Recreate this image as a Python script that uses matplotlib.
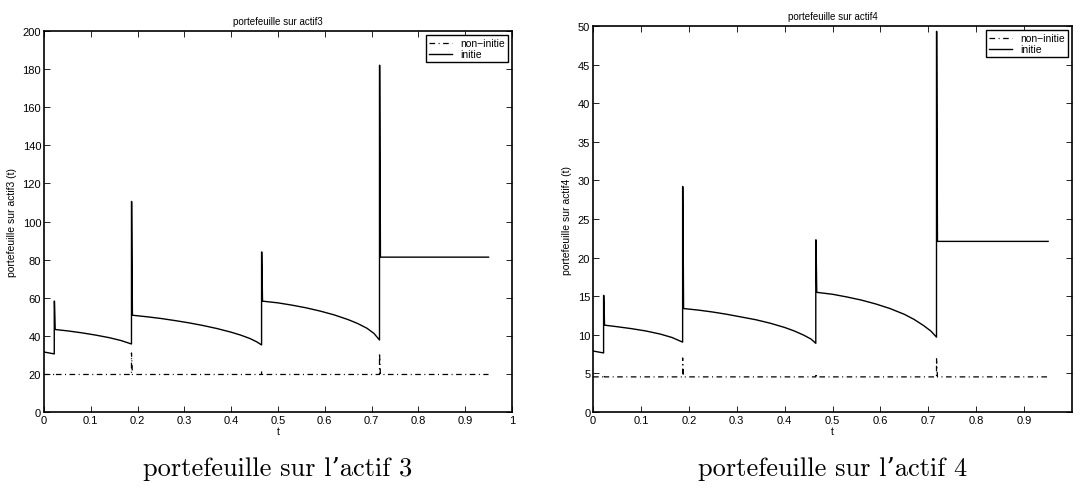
import numpy as np
from matplotlib import pyplot as plt

# time points of the "initie" curve (jumps at 0.022, 0.187, 0.465, 0.717)
t_init = [0, 0.022, 0.022, 0.0225,
          0.024, 0.05, 0.08, 0.11, 0.14, 0.165, 0.187, 0.187, 0.1875,
          0.189, 0.22, 0.25, 0.28, 0.31, 0.34, 0.37, 0.40, 0.42, 0.44, 0.455, 0.465, 0.465, 0.4655,
          0.467, 0.5, 0.53, 0.56, 0.59, 0.62, 0.65, 0.67, 0.69, 0.705, 0.717, 0.717, 0.7175,
          0.719, 0.95]

# actif3 - initie
y3_init = [31.5, 30.5, 58.2, 58.2,
           43.3, 42.6, 41.6, 40.4, 39.0, 37.5, 35.7, 110.5, 110.5,
           50.8, 50.0, 49.1, 48.0, 46.8, 45.4, 43.8, 41.9, 40.4, 38.6, 36.8, 35.2, 84.0, 84.0,
           58.2, 57.3, 56.1, 54.7, 53.0, 51.0, 48.5, 46.5, 44.0, 41.3, 37.8, 182.0, 182.0,
           81.3, 81.3]

# actif4 - initie
y4_init = [7.9, 7.65, 15.1, 15.1,
           11.25, 11.05, 10.8, 10.5, 10.1, 9.65, 9.05, 29.2, 29.2,
           13.4, 13.2, 12.95, 12.65, 12.3, 11.95, 11.5, 10.95, 10.5, 9.95, 9.45, 8.9, 22.3, 22.3,
           15.5, 15.25, 14.9, 14.5, 14.0, 13.4, 12.65, 12.0, 11.2, 10.5, 9.7, 49.3, 49.3,
           22.1, 22.1]

# non-initie: flat with small excursions at the jump times
t_non = [0, 0.022, 0.022, 0.024, 0.187, 0.187, 0.189, 0.465, 0.465, 0.467,
         0.717, 0.717, 0.719, 0.95]
y3_non = [19.7, 19.7, 20.3, 19.7, 19.7, 31.0, 19.7, 19.7, 21.5, 19.7,
          19.7, 31.0, 19.7, 19.7]
y4_non = [4.55, 4.55, 4.8, 4.55, 4.55, 7.0, 4.55, 4.55, 5.0, 4.55,
          4.55, 7.0, 4.55, 4.55]

plt.rcParams['font.family'] = ['Liberation Sans', 'DejaVu Sans']
plt.rcParams['font.size'] = 7.5

fig = plt.figure(figsize=(10.83, 4.89), dpi=100)

panels = [
    ([0.0406, 0.1554, 0.4321, 0.7791], y3_non, y3_init,
     200, np.arange(0, 201, 20), np.arange(0, 1.01, 0.1), '3'),
    ([0.5476, 0.1554, 0.4423, 0.7894], y4_non, y4_init,
     50, np.arange(0, 51, 5), np.arange(0, 0.91, 0.1), '4'),
]

for pos, yn, yi, ymax, yt, xt, k in panels:
    ax = fig.add_axes(pos)
    ax.plot(t_non, yn, color='black', linestyle=(0, (4.5, 2.8, 0.8, 2.8)),
            linewidth=0.9, label='non\u2212initie')
    ax.plot(t_init, yi, color='black', linestyle='-', linewidth=1.0, label='initie')
    ax.set_xlim(0, 1)
    ax.set_ylim(0, ymax)
    ax.set_xticks(xt)
    ax.set_xticklabels(['%g' % v for v in np.round(xt, 1)])
    ax.set_yticks(yt)
    ax.tick_params(direction='in', top=True, right=True, length=4, width=0.6, pad=2,
                   labelsize=8)
    for s in ax.spines.values():
        s.set_linewidth(1.2)
    ax.set_title('portefeuille sur actif' + k, fontsize=7, pad=5)
    ax.set_xlabel('t', labelpad=1)
    ax.set_ylabel('portefeuille sur actif' + k + ' (t)', labelpad=4)
    leg = ax.legend(loc='upper right', fontsize=7.5, fancybox=False, framealpha=1,
                    edgecolor='black', borderaxespad=0.4, handlelength=2.2,
                    borderpad=0.3, labelspacing=0.1)
    leg.get_frame().set_linewidth(1.0)
    fig.text(pos[0] + pos[2] / 2, 0.04, "portefeuille sur l\u2019actif " + k,
             ha='center', va='center', fontsize=19, family=['cmr10', 'DejaVu Serif'])

fig.savefig('out.png', dpi=100)
